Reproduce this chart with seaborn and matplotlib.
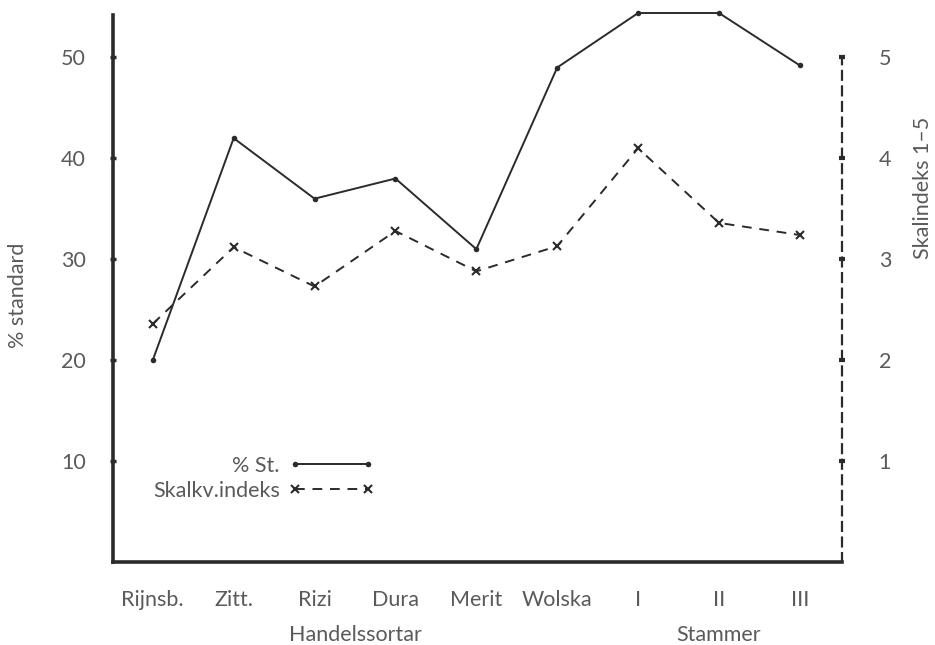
import matplotlib
matplotlib.use("Agg")
import matplotlib.pyplot as plt
from matplotlib.transforms import blended_transform_factory
import seaborn as sns
import pandas as pd

# Varieties (commercial sorts) and breeding lines (stammer)
categories = ["Rijnsb.", "Zitt.", "Rizi", "Dura", "Merit", "Wolska", "I", "II", "III"]
pct_standard = [20, 42, 36, 38, 31, 49, 54.4, 54.4, 49.2]
scale_index = [2.36, 3.12, 2.73, 3.28, 2.88, 3.13, 4.1, 3.36, 3.24]
group_names = ["Handelssortar", "Stammer"]
group_sizes = [6, 3]
left_ticks = [10, 20, 30, 40, 50]
right_ticks = [1, 2, 3, 4, 5]

sns.set_theme(style="white")
plt.rcParams["font.family"] = ["Lato", "DejaVu Sans"]
INK = "#2b2b2b"
TXT = "#5a5a5a"
FS = 15.5

df = pd.DataFrame({"sort": categories, "pct": pct_standard, "idx": scale_index})

fig = plt.figure(figsize=(9.35, 6.45), dpi=100)
ax = fig.add_axes([0.121, 0.1287, 0.7795, 0.848])
ax2 = ax.twinx()

sns.lineplot(data=df, x="sort", y="pct", ax=ax, sort=False, color=INK,
             linewidth=1.4, marker="o", markersize=4, markeredgewidth=0,
             label="% St.", legend=False, clip_on=False)
sns.lineplot(data=df, x="sort", y="idx", ax=ax2, sort=False, color=INK,
             linewidth=1.4, marker="x", markersize=6, markeredgewidth=1.5,
             markeredgecolor=INK, dashes=False, label="Skalkv.indeks",
             legend=False, clip_on=False)
ax2.lines[0].set_dashes((5, 4))
ax2.lines[0].set_markeredgecolor(INK)
ax.lines[0].set_markerfacecolor(INK)

ax.set_xlim(-0.49, 8.52)
ax.set_ylim(0, 54.2)
ax2.set_ylim(0, 5.42)

# left / bottom frame
for side in ["top", "right"]:
    ax.spines[side].set_visible(False)
ax.spines["left"].set_linewidth(2.6)
ax.spines["bottom"].set_linewidth(2.6)
for s in ax.spines.values():
    s.set_color(INK)

ax.set_yticks(left_ticks)
ax.set_yticklabels([str(t) for t in left_ticks])
ax.tick_params(axis="y", direction="inout", length=5, width=2.5, color=INK,
               labelsize=FS, labelcolor=TXT, pad=17)
ax.tick_params(axis="x", direction="in", length=4, width=2.2, color=INK,
               labelsize=FS, labelcolor=TXT, pad=20)
ax.set_xlabel("")
ax.set_ylabel("% standard", fontsize=FS, color=TXT)

# dashed right axis for the 1–5 scale
for side in ["top", "left", "bottom"]:
    ax2.spines[side].set_visible(False)
ax2.spines["right"].set_linestyle((0, (4, 3)))
ax2.spines["right"].set_linewidth(1.6)
ax2.spines["right"].set_color(INK)
ax2.spines["right"].set_bounds(0, 5)
ax2.set_yticks(right_ticks)
ax2.set_yticklabels([str(t) for t in right_ticks])
ax2.tick_params(axis="y", direction="inout", length=5, width=3, color=INK,
                labelsize=FS, labelcolor=TXT, pad=24)
ax2.set_ylabel("Skalindeks 1–5", fontsize=FS, color=TXT)
ax2.yaxis.set_label_coords(1.098, 0.684)
ax.yaxis.set_label_coords(-0.117, 0.488)

# group captions under the category labels
trans = blended_transform_factory(ax.transData, ax.transAxes)
start = 0
for name, n in zip(group_names, group_sizes):
    centre = start + (n - 1) / 2
    ax.text(centre, -0.115, name, transform=trans, ha="center", va="top",
            fontsize=FS, color=TXT)
    start += n

# key with the text placed before the line sample
handles = ax.lines[:1] + ax2.lines[:1]
leg = ax.legend(handles, ["% St.", "Skalkv.indeks"], loc="upper left",
                bbox_to_anchor=(0.028, 0.23), frameon=False, markerfirst=False,
                numpoints=2, handlelength=4.0, handletextpad=0.4,
                labelspacing=0.25, fontsize=FS, labelcolor=TXT,
                alignment="right")

fig.savefig("out.png", dpi=100)
